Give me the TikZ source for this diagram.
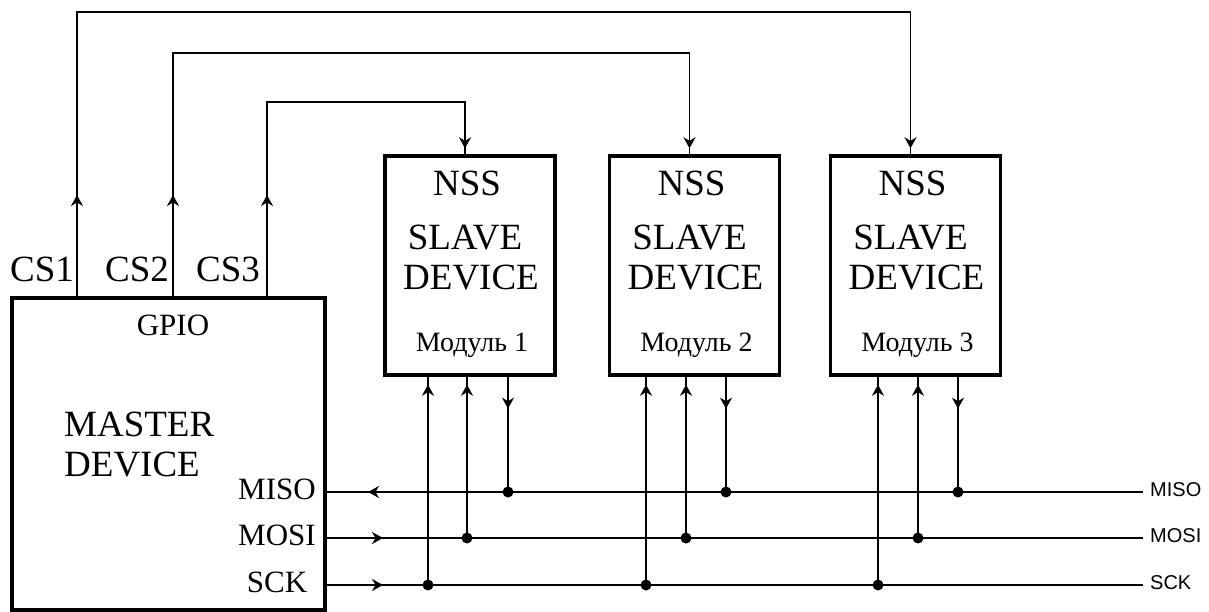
\documentclass[tikz,border=0pt]{standalone}
\usepackage{fontspec}
\setmainfont{Liberation Serif}
\newfontfamily\busfont{Liberation Sans}
\usetikzlibrary{arrows.meta}
\usetikzlibrary{decorations.markings}

\tikzset{
  flowtip/.tip={Stealth[length=11pt,width=12pt,inset=3.5pt]},
  unit/.style={draw, line width=3.4pt, inner sep=0pt},
  wire/.style={line width=1.6pt},
  flow/.style={postaction={decorate, decoration={markings, mark=at position #1 with {\arrow{flowtip}}}}},
  big/.style={inner sep=0pt, font=\fontsize{37}{42}\selectfont},
  pin/.style={inner sep=0pt, font=\fontsize{31}{36}\selectfont},
  mod/.style={inner sep=0pt, font=\fontsize{28}{32}\selectfont},
  buslbl/.style={inner sep=0pt, anchor=west, font=\busfont\fontsize{20}{24}\selectfont}
}

\begin{document}
\begin{tikzpicture}[x=1pt, y=-1pt]
        \useasboundingbox (0,0) rectangle (1209,612);
        % master
        \node[unit, minimum width=313, minimum height=312] (master) at (168.5,454) {};
        \node[pin] (gpio) at (173,325) {GPIO};
        \node[big, anchor=west] (mname) at (64,424) {MASTER};
        \node[big, anchor=west] (mdev) at (64,465) {DEVICE};
        \foreach \n/\x in {1/42,2/137,3/228} {
            \node[big] (cslbl\n) at (\x,269) {CS\n};
        }
        % bus lines
        \foreach \name/\y in {MISO/492,MOSI/538,SCK/585} {
            \coordinate (\name-l) at (325,\y);
            \coordinate (\name-r) at (1143,\y);
            \node[pin] (\name-m) at (277,\y-3) {\name};
            \node[buslbl] (\name-t) at (1150,\y-2) {\name};
        }
        \draw[wire, flow=-43pt] (MISO-r) -- (MISO-l);
        \draw[wire, flow=58pt] (MOSI-l) -- (MOSI-r);
        \draw[wire, flow=58pt] (SCK-l) -- (SCK-r);
        % slaves
        \foreach \i/\cx/\ck/\mo/\mi/\cs/\top in {1/470/428/467/508/267/102,2/694.5/646/686/726/173/53,3/915.5/878/918/958/77/12} {
            \node[unit, minimum width=170, minimum height=219] (slave\i) at (\cx,265.5) {};
            \node[big] (nss\i) at (\cx-3,183) {NSS};
            \node[big] (slv\i) at (\cx-5,238) {SLAVE};
            \node[big] (dev\i) at (\cx+1,278) {DEVICE};
            \node[mod] (mod\i) at (\cx+2,345) {Модуль \i};
            \coordinate (cs\i) at (\cs,298);
            \draw[wire, flow=103pt, flow=-6pt] (cs\i) -- (\cs,\top) -| ([xshift=-5pt]slave\i.north);
            \coordinate (ck\i) at (\ck,585);
            \coordinate (mo\i) at (\mo,538);
            \coordinate (mi\i) at (\mi,492);
            \draw[wire, flow=-8pt] (ck\i) -- (slave\i.south -| ck\i);
            \draw[wire, flow=-8pt] (mo\i) -- (slave\i.south -| mo\i);
            \draw[wire, flow=32pt] (slave\i.south -| mi\i) -- (mi\i);
            \foreach \p in {ck\i,mo\i,mi\i} {
                \fill (\p) circle (5.5);
            }
        }
    \end{tikzpicture}
\end{document}
